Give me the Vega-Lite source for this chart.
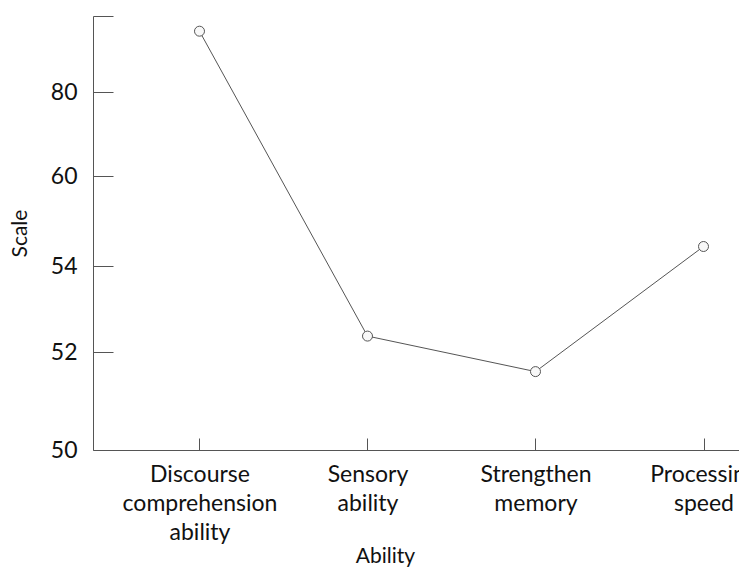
{
  "$schema": "https://vega.github.io/schema/vega-lite/v6.json",
  "width": 646,
  "height": 434,
  "autosize": "none",
  "padding": {"left": 93, "top": 16, "right": 0, "bottom": 120},
  "background": "white",
  "config": {
    "view": {"stroke": null},
    "font": "Lato",
    "axis": {"grid": false, "domainColor": "#555", "tickColor": "#555", "labelColor": "#111", "titleColor": "#111", "labelFont": "Lato", "titleFont": "Lato", "labelFontSize": 23, "titleFontSize": 21, "titleFontWeight": "normal"}
  },
  "data": {
    "values": [
      {"ability": "Discourse comprehension ability", "scale": 96},
      {"ability": "Sensory ability", "scale": 52.37},
      {"ability": "Strengthen memory", "scale": 51.6},
      {"ability": "Processing speed", "scale": 55.3}
    ]
  },
  "encoding": {
    "x": {
      "field": "ability",
      "type": "nominal",
      "sort": null,
      "scale": {"type": "point", "padding": 0.4226, "align": 0.75},
      "axis": {
        "title": "Ability",
        "labelAngle": 0,
        "labelExpr": "datum.value == 'Discourse comprehension ability' ? ['Discourse', 'comprehension', 'ability'] : split(datum.value, ' ')",
        "labelBaseline": "top",
        "labelLineHeight": 29,
        "labelPadding": 25,
        "tickSize": -12,
        "titleX": 292,
        "titleY": 106,
        "titleBaseline": "middle",
        "titleAnchor": null
      }
    },
    "y": {
      "field": "scale",
      "type": "quantitative",
      "scale": {"domain": [50, 52, 54, 60, 80, 100], "range": [434, 336, 250, 160, 76, 0], "zero": false, "nice": false, "clamp": false},
      "axis": {
        "title": "Scale",
        "values": [50, 52, 54, 60, 80, 100],
        "labelExpr": "datum.value == 100 ? '' : datum.label",
        "tickSize": -20,
        "labelPadding": 36,
        "titleX": -73,
        "titleY": 217,
        "titleAngle": -90,
        "titleBaseline": "middle",
        "titleAnchor": null
      }
    }
  },
  "layer": [
    {"mark": {"type": "line", "color": "#555", "strokeWidth": 1}},
    {"mark": {"type": "point", "shape": "circle", "filled": false, "fill": "#f8f8f8", "fillOpacity": 1, "stroke": "#555", "strokeWidth": 1, "size": 100, "opacity": 1}}
  ]
}
